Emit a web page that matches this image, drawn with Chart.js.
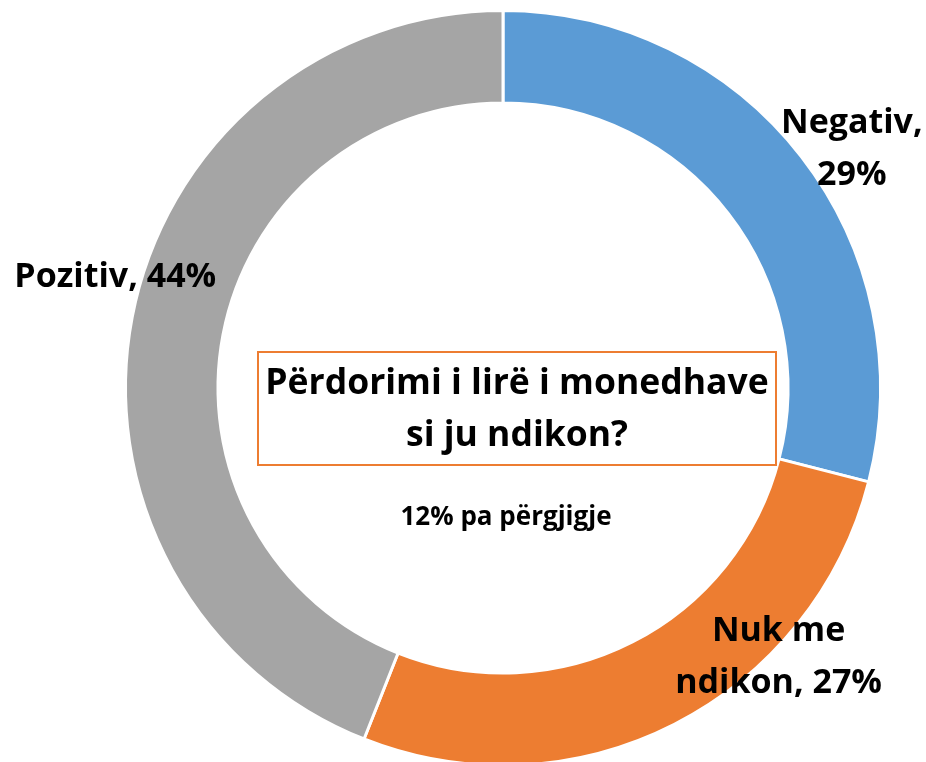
<!DOCTYPE html>
<html>
<head>
<meta charset="utf-8">
<script src="https://cdn.jsdelivr.net/npm/chart.js@4"></script>
<style>
  html, body { margin: 0; padding: 0; background: #ffffff; overflow: hidden; }
  #wrap { position: relative; width: 926px; height: 772px; }
</style>
</head>
<body>
<div id="wrap"><canvas id="c" width="926" height="772"></canvas></div>
<script>
// Survey answers (share of respondents, %)
const categories = ['Negativ', 'Nuk me ndikon', 'Pozitiv'];
const values = [29, 27, 44];
const colors = ['#5B9BD5', '#ED7D31', '#A5A5A5'];
const noAnswer = 12;

const titleLines = ['Përdorimi i lirë i monedhave', 'si ju ndikon?'];
const noteText = noAnswer + '% pa përgjigje';

// Label placement: offset from the ring centre in units of the outer radius,
// and how many words go on the first line of each label.
const labelLayout = [
  { ox: 0.924, oy: -0.633, firstLineWords: 1 },
  { ox: 0.730, oy: 0.713, firstLineWords: 2 },
  { ox: -1.027, oy: -0.293, firstLineWords: 0 }
];

const FONT = '"Open Sans", Lato, sans-serif';

function labelLines(i) {
  const words = (categories[i] + ', ' + values[i] + '%').split(' ');
  const n = labelLayout[i].firstLineWords;
  if (!n) return [words.join(' ')];
  return [words.slice(0, n).join(' '), words.slice(n).join(' ')];
}

const overlay = {
  id: 'overlay',
  afterDatasetsDraw(chart) {
    const ctx = chart.ctx;
    const arc = chart.getDatasetMeta(0).data[0];
    const cx = arc.x, cy = arc.y, R = arc.outerRadius;
    ctx.save();
    ctx.fillStyle = '#000000';
    ctx.textAlign = 'center';
    ctx.textBaseline = 'middle';

    // slice labels
    ctx.font = 'bold 34px ' + FONT;
    values.forEach((v, i) => {
      const L = labelLayout[i];
      const lines = labelLines(i);
      const x = cx + L.ox * R;
      const y = cy + L.oy * R;
      const lh = 52;
      lines.forEach((t, k) => {
        ctx.fillText(t, x, y + (k - (lines.length - 1) / 2) * lh);
      });
    });

    // centre title in an outlined box
    const bx = cx - 245, by = cy - 36, bw = 518, bh = 113;
    ctx.strokeStyle = '#ED7D31';
    ctx.lineWidth = 2;
    ctx.strokeRect(bx, by, bw, bh);
    ctx.font = 'bold 35.5px ' + FONT;
    ctx.fillText(titleLines[0], bx + bw / 2, by + 32);
    ctx.fillText(titleLines[1], bx + bw / 2, by + 84);

    ctx.font = 'bold 26px ' + FONT;
    ctx.fillText(noteText, cx + 3, cy + 130);
    ctx.restore();
  }
};

new Chart(document.getElementById('c'), {
  type: 'doughnut',
  data: {
    labels: categories,
    datasets: [{
      data: values,
      backgroundColor: colors,
      borderColor: '#ffffff',
      borderWidth: 3,
      hoverOffset: 0
    }]
  },
  options: {
    responsive: false,
    animation: false,
    cutout: '75.5%',
    layout: { padding: { left: 124, right: 44, top: 9, bottom: 5 } },
    plugins: {
      legend: { display: false },
      tooltip: { enabled: false },
      title: { display: false }
    }
  },
  plugins: [overlay]
});
</script>
</body>
</html>
